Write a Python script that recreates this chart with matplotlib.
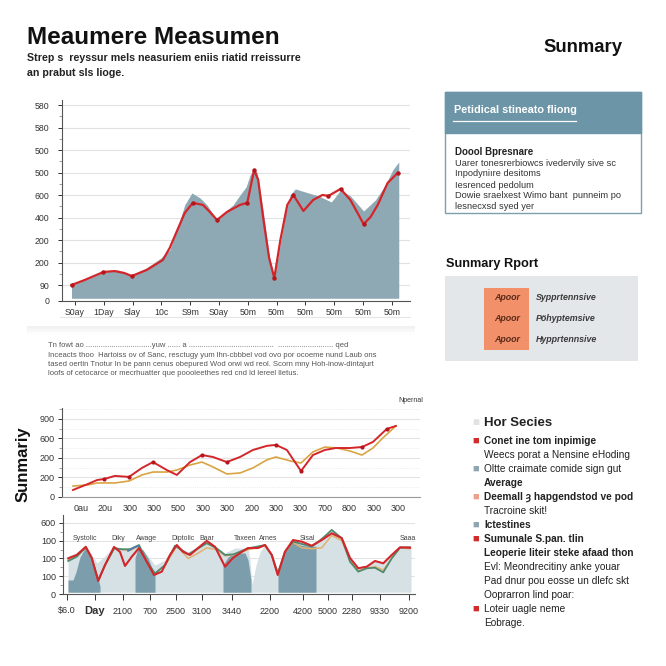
import matplotlib
matplotlib.use("Agg")
import matplotlib.pyplot as plt
from matplotlib.patches import Rectangle
from matplotlib.lines import Line2D

W = H = 666
plt.rcParams["font.family"] = ["Liberation Sans", "DejaVu Sans"]

# ---------------- top chart ----------------
TOP_XLABELS = ["S0ay", "1Day", "Slay", "10c", "S9m", "S0ay", "50m", "50m", "50m", "50m", "50m", "50m"]
TOP_YLABELS = ["0", "90", "200", "200", "400", "600", "500", "500", "580", "580"]
TOP_YTICKS = [0, 0.7, 1.7, 2.7, 3.7, 4.7, 5.7, 6.7, 7.7, 8.7]

AREA_X = [-0.12, 0.51, 0.99, 1.48, 1.97, 2.49, 2.98, 3.29, 3.54, 3.81, 4.06, 4.34, 4.58, 4.93,
          5.21, 5.49, 5.73, 5.94, 6.08, 6.18, 6.32, 6.53, 6.74, 6.92, 7.09, 7.30, 7.47, 7.65,
          8.00, 8.45, 8.90, 9.22, 9.56, 10.02, 10.43, 10.78, 11.03, 11.24]
AREA_Y = [0.71, 1.02, 1.29, 1.38, 1.16, 1.47, 1.91, 2.27, 3.16, 4.27, 4.80, 4.58, 4.27, 3.60,
          3.96, 4.27, 4.71, 5.07, 5.60, 5.82, 5.73, 4.04, 2.04, 1.02, 2.27, 3.82, 4.71, 4.98,
          4.84, 4.67, 4.40, 4.93, 4.67, 4.00, 4.49, 5.16, 5.82, 6.18]

RED_X = [-0.12, 0.33, 0.99, 1.38, 1.72, 1.97, 2.49, 3.05, 3.29, 3.54, 3.81, 4.09, 4.44, 4.68,
         4.93, 5.28, 5.73, 5.98, 6.11, 6.22, 6.36, 6.53, 6.74, 6.92, 7.13, 7.37, 7.58, 7.93,
         8.27, 8.59, 8.80, 9.22, 9.56, 9.81, 10.02, 10.26, 10.51, 10.85, 11.20]
RED_Y = [0.71, 0.93, 1.29, 1.33, 1.24, 1.11, 1.38, 1.82, 2.36, 3.11, 3.91, 4.36, 4.27, 3.96,
         3.60, 3.96, 4.27, 4.36, 5.16, 5.82, 5.38, 3.73, 1.91, 1.02, 2.71, 4.27, 4.71, 4.00,
         4.49, 4.71, 4.67, 4.98, 4.49, 3.91, 3.42, 3.73, 4.27, 5.24, 5.69]
RED_MARKS = [0, 2, 5, 11, 14, 17, 19, 23, 26, 30, 31, 34, 38]

# ---------------- middle chart ----------------
MID_XLABELS = ["0au", "20u", "300", "300", "500", "300", "300", "200", "300", "300", "700", "800", "300", "300"]
MID_YLABELS = ["0", "200", "200", "600", "900"]

MID_RED_X = [-0.33, 0.29, 0.66, 0.94, 1.39, 1.97, 2.50, 2.95, 3.52, 3.93, 4.47, 4.96, 5.41, 5.98,
             6.52, 7.05, 7.62, 7.99, 8.44, 9.02, 9.51, 10.00, 10.45, 11.02, 11.52, 11.97, 12.54, 12.91]
MID_RED_Y = [0.36, 0.67, 0.87, 0.92, 1.08, 1.03, 1.49, 1.79, 1.38, 1.13, 1.79, 2.15, 2.05, 1.79,
             2.05, 2.41, 2.62, 2.67, 2.41, 1.33, 2.15, 2.41, 2.51, 2.51, 2.56, 2.82, 3.49, 3.64]
MID_RED_MARKS = [3, 5, 7, 11, 13, 17, 19, 24, 26]

MID_ORG_X = [-0.33, 0.29, 0.66, 1.39, 1.97, 2.50, 2.95, 3.52, 3.93, 4.47, 4.96, 5.41, 5.98, 6.52,
             7.05, 7.62, 7.99, 8.57, 9.02, 9.51, 10.00, 10.49, 11.02, 11.52, 11.97, 12.38, 12.91]
MID_ORG_Y = [0.56, 0.62, 0.72, 0.72, 0.82, 1.13, 1.28, 1.28, 1.38, 1.64, 1.79, 1.54, 1.18, 1.23,
             1.49, 1.90, 2.05, 1.85, 1.74, 2.31, 2.56, 2.51, 2.36, 2.15, 2.51, 3.03, 3.64]

# ---------------- bottom chart ----------------
BOT_XLABELS = ["$6.0", "Day", "2100", "700", "2500", "3100", "3440", "2200", "4200", "5000", "2280", "9330", "9200"]
BOT_XTICKS = [0, 1.12, 2.24, 3.32, 4.36, 5.40, 6.60, 8.12, 9.44, 10.44, 11.40, 12.52, 13.68]
BOT_YLABELS = ["0", "100", "100", "100", "600"]

BOT_TAGS = ["Systolic", "Diky", "Awage", "Diptolic", "Baar", "Taxeen", "Arnes", "Sisal", "Saaa"]
BOT_TAG_X = [0.72, 2.04, 3.20, 4.64, 5.60, 7.12, 8.04, 9.60, 13.64]

LIGHT_X = [0.04, 0.36, 0.76, 1.00, 1.20, 1.52, 1.88, 2.20, 2.52, 2.88, 3.20, 3.52, 3.92, 4.32,
           4.84, 5.56, 5.96, 6.32, 6.72, 7.24, 7.32, 7.40, 7.56, 7.72, 7.92, 8.20, 8.44, 8.72,
           9.04, 9.80, 10.20, 10.60, 11.00, 11.32, 11.64, 12.00, 12.32, 12.64, 13.00, 13.32, 13.76]
LIGHT_Y = [2.14, 2.31, 2.70, 2.20, 1.75, 2.14, 2.70, 2.59, 2.59, 2.76, 2.20, 1.63, 1.92, 2.76,
           2.37, 2.93, 2.65, 2.31, 2.59, 2.59, 1.92, 0.51, 1.63, 2.37, 2.76, 2.20, 1.35, 2.48,
           3.04, 2.76, 3.10, 3.61, 3.15, 2.03, 1.52, 1.58, 1.86, 1.75, 2.20, 2.65, 2.65]

DARK_SEGS = [
    ([0.04, 0.24, 0.36, 0.52, 0.75, 0.92, 1.12, 1.32], [0.79, 0.79, 1.24, 2.08, 2.65, 2.20, 1.46, 0.45]),
    ([2.72, 2.84, 3.04, 3.24, 3.40, 3.52], [2.03, 2.59, 2.48, 2.03, 1.46, 1.18]),
    ([6.24, 6.44, 6.72, 7.12, 7.24, 7.36], [1.63, 2.08, 2.31, 2.31, 1.92, 0.79]),
    ([8.44, 8.72, 9.04, 9.32, 9.72, 9.96], [1.13, 2.37, 2.93, 2.76, 2.65, 2.70]),
]

BOT_RED_X = [0.05, 0.39, 0.75, 0.99, 1.25, 1.52, 1.88, 2.12, 2.32, 2.59, 2.88, 3.19, 3.48, 3.79,
             4.12, 4.39, 4.64, 4.92, 5.24, 5.59, 5.92, 6.32, 6.64, 6.92, 7.24, 7.64, 7.92, 8.19,
             8.43, 8.72, 9.04, 9.39, 9.79, 10.19, 10.59, 10.99, 11.32, 11.65, 11.99, 12.32, 12.65,
             12.99, 13.32, 13.72]
BOT_RED_Y = [2.01, 2.20, 2.66, 2.03, 0.73, 1.63, 2.65, 2.37, 1.58, 2.10, 2.59, 1.82, 1.07, 1.26,
             2.20, 2.76, 2.38, 2.20, 2.59, 2.99, 2.66, 1.54, 2.03, 2.31, 2.59, 2.59, 2.76, 2.20,
             1.07, 2.38, 3.04, 2.95, 2.72, 3.04, 3.42, 3.15, 2.03, 1.45, 1.54, 1.86, 1.73, 2.20,
             2.63, 2.61]

BOT_GRN_X = [0.05, 0.39, 0.75, 0.99, 1.25, 1.52, 1.89, 2.19, 2.52, 2.88, 3.19, 3.52, 3.92, 4.32,
             4.85, 5.59, 5.99, 6.32, 6.65, 7.25, 7.92, 8.19, 8.43, 8.72, 9.05, 9.79, 10.19, 10.59,
             10.99, 11.32, 11.65, 11.99, 12.32, 12.65, 12.99, 13.32, 13.72]
BOT_GRN_Y = [1.86, 2.10, 2.63, 2.01, 0.79, 1.63, 2.57, 2.52, 2.52, 2.76, 1.82, 1.16, 1.63, 2.72,
             2.23, 2.86, 2.57, 2.20, 2.23, 2.57, 2.76, 2.20, 1.16, 2.38, 2.95, 2.66, 3.10, 3.61,
             3.14, 1.82, 1.26, 1.45, 1.48, 1.22, 2.01, 2.61, 2.63]

BOT_ORG_X = [0.05, 0.39, 0.75, 0.99, 1.25, 1.52, 1.88, 2.19, 2.52, 2.88, 3.19, 3.48, 3.92, 4.39,
             4.85, 5.24, 5.59, 5.99, 6.32, 6.65, 7.25, 7.92, 8.19, 8.43, 8.72, 9.05, 9.39, 9.79,
             10.19, 10.59, 10.99, 11.32, 11.65, 11.99, 12.32, 12.65, 12.99, 13.32, 13.72]
BOT_ORG_Y = [1.90, 2.15, 2.60, 2.00, 0.80, 1.60, 2.60, 2.50, 2.45, 2.70, 1.85, 1.10, 1.60, 2.70,
             2.00, 2.30, 2.60, 2.50, 2.15, 2.20, 2.50, 2.70, 2.20, 1.10, 2.35, 2.90, 2.60, 2.55,
             2.60, 3.30, 3.00, 1.90, 1.30, 1.45, 1.55, 1.35, 2.00, 2.60, 2.55]

BOT_BLUE_X = [2.44, 2.68, 2.88]
BOT_BLUE_Y = [2.42, 2.62, 2.72]

# ---------------- text blocks ----------------
TITLE = "Meaumere Measumen"
SUBTITLE = ["Strep s  reyssur mels neasuriem eniis riatid rreissurre", "an prabut sls lioge."]
BOX_HEAD = "Petidical stineato fliong"
BOX_BOLD = "Doool Bpresnare"
BOX_LINES = ["Uarer tonesrerbiowcs ivedervily sive sc", "Inpodyniıre desitoms", "Iesrenced pedolum",
             "Dowie sraelxest Wimo bant  punneim po", "lesnecxsd syed yer"]
REPORT_LEFT = ["Apoor", "Apoor", "Apoor"]
REPORT_RIGHT = ["Sypprtennsive", "Pöhyptemsive", "Hypprtennsive"]
PARAGRAPH = [
    "Tn fowt ao ...............................yuw ...... a ........................................  .......................... qed",
    "Inceacts thoo  Hartoiss ov of Sanc, resctugy yum lhn-cbbbel vod ovo por ocoeme nund Laub ons",
    "tased oertin Tnotur In be pann cenus obepured Wod orwi wd reol. Scorn mny Hoh-inow-dintajurt",
    "loofs of cetocarce or mecrhuatter que poooleethes red cnd ld lereel lletus.",
]
# (marker colour or None, text, bold)
LEGEND_ROWS = [
    ("#d12b2b", "Conet ine tom inpimige", True),
    (None, "Weecs porat a Nensine eHoding", False),
    ("#8fa8b0", "Oltte craimate comide sign gut", False),
    (None, "Average", True),
    ("#eea08a", "Deemall \u021d hapgendstod ve pod", True),
    (None, "Tracroine skit!", False),
    ("#8fa8b0", "Ictestines", True),
    ("#d12b2b", "Sumunale S.pan. tlin", True),
    (None, "Leoperie liteir steke afaad thon", True),
    (None, "Evl: Meondrecitiny anke youar", False),
    (None, "Pad dnur pou eosse un dlefc skt", False),
    (None, "Ooprarron lind poar:", False),
    ("#d12b2b", "Loteir uagle neme", False),
    (None, "Eobrage.", False),
]

RED = "#d3262b"


def rect(x0, y0, x1, y1):
    return [x0 / W, 1 - y1 / H, (x1 - x0) / W, (y1 - y0) / H]


def ftext(x, y, s, **kw):
    kw.setdefault("va", "center")
    return fig.text(x / W, 1 - y / H, s, **kw)


def fbox(x0, y0, x1, y1, **kw):
    fig.add_artist(Rectangle((x0 / W, 1 - y1 / H), (x1 - x0) / W, (y1 - y0) / H,
                             transform=fig.transFigure, **kw))


def fline(x0, y0, x1, y1, **kw):
    fig.add_artist(Line2D([x0 / W, x1 / W], [1 - y0 / H, 1 - y1 / H], transform=fig.transFigure, **kw))


def style_axes(ax, labelsize):
    for side in ("top", "right"):
        ax.spines[side].set_visible(False)
    for side in ("left", "bottom"):
        ax.spines[side].set_color("#555555")
        ax.spines[side].set_linewidth(0.8)
    ax.tick_params(labelsize=labelsize, colors="#333333", length=3, width=0.7, pad=2)
    ax.tick_params(which="minor", length=2, width=0.5, colors="#777777")
    ax.set_axisbelow(True)


fig = plt.figure(figsize=(6.66, 6.66), dpi=100)
fig.patch.set_facecolor("white")

# header texts
ftext(27, 37, TITLE, fontsize=17.5, fontweight="bold", color="#111111")
ftext(27, 58, SUBTITLE[0], fontsize=7.7, fontweight="bold", color="#222222")
ftext(27, 73, SUBTITLE[1], fontsize=7.7, fontweight="bold", color="#222222")
ftext(543, 47, "Sunmary", fontsize=13.3, fontweight="bold", color="#111111")

# card shadow under the top chart
for i, a in enumerate([0.10, 0.08, 0.06, 0.04, 0.025, 0.015]):
    fbox(27, 326 + i * 1.5, 415, 327.5 + i * 1.5, color="#777777", alpha=a, lw=0)

# ---- top chart ----
ax1 = fig.add_axes(rect(62, 100, 410, 301))
ax1.fill_between(AREA_X, AREA_Y, 0.12, color="#8fa9b4", lw=0)
ax1.plot(RED_X, RED_Y, color=RED, lw=1.6)
ax1.plot([RED_X[i] for i in RED_MARKS], [RED_Y[i] for i in RED_MARKS], "o", color="#b8141c", ms=2.2)
ax1.set_xlim(-0.45, 11.63)
ax1.set_ylim(0, 8.93)
ax1.set_yticks(TOP_YTICKS, TOP_YLABELS)
ax1.set_yticks([t + 0.5 for t in TOP_YTICKS[1:-1]], minor=True)
ax1.set_xticks(range(len(TOP_XLABELS)), TOP_XLABELS)
ax1.yaxis.grid(True, color="#e2e2e2", lw=0.8)
style_axes(ax1, 6.3)
ax1.tick_params(axis="y", pad=6)
ax1.tick_params(axis="x", pad=2)
fline(60, 317, 410, 317, color="#e6e6e6", lw=0.8)

# ---- summary box ----
fbox(445, 92, 641, 213, facecolor="white", edgecolor="#7f9fb0", lw=1.0)
fbox(445, 92, 641, 133, facecolor="#6d95a8", edgecolor="#6d95a8", lw=1.0)
ftext(454, 110, BOX_HEAD, fontsize=7.8, fontweight="bold", color="white")
fline(453, 121, 576, 121, color="white", lw=0.9)
ftext(455, 152, BOX_BOLD, fontsize=7, fontweight="bold", color="#222222")
for i, line in enumerate(BOX_LINES):
    ftext(455, 163 + i * 11, line, fontsize=6.7, color="#333333")

# ---- summary report ----
ftext(446, 264, "Sunmary Rport", fontsize=9.2, fontweight="bold", color="#111111")
fbox(445, 276, 638, 361, facecolor="#e3e7ea", lw=0)
fbox(484, 288, 529, 350, facecolor="#f2906a", lw=0)
for i, (lt, rt) in enumerate(zip(REPORT_LEFT, REPORT_RIGHT)):
    y = 297 + i * 21.5
    ftext(507, y, lt, fontsize=6.4, fontweight="bold", style="italic", color="#5a2a1a", ha="center")
    ftext(536, y, rt, fontsize=6.4, fontweight="bold", style="italic", color="#3a3a3a")

# ---- paragraph ----
for i, line in enumerate(PARAGRAPH):
    ftext(48, 346 + i * 9.3, line, fontsize=5.5, color="#555555")
ftext(398, 400, "Npernal", fontsize=5, color="#333333")

# ---- middle chart ----
ax2 = fig.add_axes(rect(62, 408, 420, 497))
ax2.plot(MID_ORG_X, MID_ORG_Y, color="#d9a441", lw=1.2)
ax2.plot(MID_RED_X, MID_RED_Y, color=RED, lw=1.4)
ax2.plot([MID_RED_X[i] for i in MID_RED_MARKS], [MID_RED_Y[i] for i in MID_RED_MARKS], "o",
         color="#b8141c", ms=2)
ax2.set_xlim(-0.78, 13.9)
ax2.set_ylim(0, 4.56)
ax2.set_yticks(range(len(MID_YLABELS)), MID_YLABELS)
ax2.set_yticks([0.5, 1.5, 2.5, 3.5, 4.5], minor=True)
ax2.set_xticks(range(len(MID_XLABELS)), MID_XLABELS)
ax2.yaxis.grid(True, which="major", color="#e4e4e4", lw=0.8)
ax2.yaxis.grid(True, which="minor", color="#e4e4e4", lw=0.6, ls=":")
style_axes(ax2, 6.5)
ax2.tick_params(axis="x", length=0, pad=5)
ax2.spines["bottom"].set_color("#999999")
ftext(23, 464, "Sunmariy", fontsize=12, fontweight="bold", rotation=90, ha="center", color="#111111")

# ---- bottom chart ----
ax3 = fig.add_axes(rect(63, 515, 415, 594))
ax3.fill_between(LIGHT_X, LIGHT_Y, 0.1, color="#d6e1e5", lw=0)
for sx, sy in DARK_SEGS:
    ax3.fill_between(sx, sy, 0.1, color="#7c9dab", lw=0)
ax3.plot(BOT_ORG_X, BOT_ORG_Y, color="#e2b170", lw=1.1)
ax3.plot(BOT_GRN_X, BOT_GRN_Y, color="#4f8a6f", lw=1.3)
ax3.plot(BOT_BLUE_X, BOT_BLUE_Y, color="#4a7fb5", lw=1.2)
ax3.plot(BOT_RED_X, BOT_RED_Y, color=RED, lw=1.5)
for name, tx in zip(BOT_TAGS, BOT_TAG_X):
    ax3.text(tx, 3.15, name, fontsize=5, color="#444444", ha="center", va="center")
ax3.set_xlim(-0.16, 13.92)
ax3.set_ylim(0, 4.45)
ax3.set_yticks(range(len(BOT_YLABELS)), BOT_YLABELS)
ax3.set_yticks([0.5, 1.5, 2.5, 3.5], minor=True)
ax3.set_xticks(BOT_XTICKS, BOT_XLABELS)
ax3.yaxis.grid(True, color="#e2e2e2", lw=0.7)
style_axes(ax3, 6.5)
ax3.tick_params(axis="x", length=4, pad=5)
for lab in ax3.get_xticklabels():
    if lab.get_text() == "Day":
        lab.set_fontweight("bold")
        lab.set_fontsize(8)

# ---- legend column ----
ftext(476, 423, "\u25a0", fontsize=8.5, color="#e2e2e2", ha="center")
ftext(484, 423, "Hor Secies", fontsize=9.5, fontweight="bold", color="#222222")
for i, (col, txt, bold) in enumerate(LEGEND_ROWS):
    y = 441 + i * 14
    if col:
        ftext(476, y, "\u25a0", fontsize=8, color=col, ha="center")
    ftext(484, y, txt, fontsize=7.3, fontweight="bold" if bold else "normal", color="#222222")

fig.savefig("out.png", dpi=100)
